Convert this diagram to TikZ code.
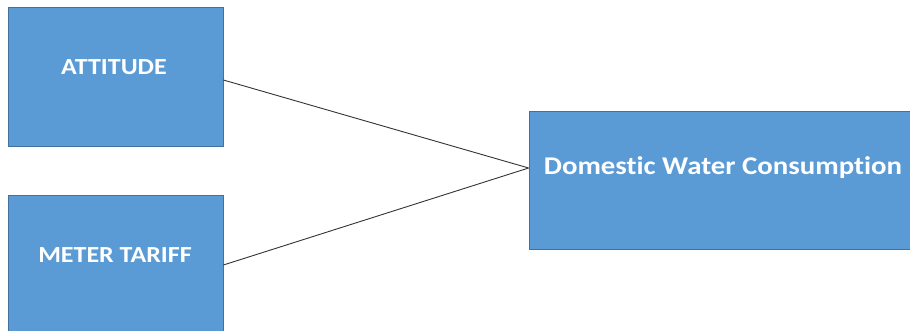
\documentclass[tikz,border=0pt]{standalone}
\usepackage{fontspec}
\setmainfont[Ligatures=NoCommon,FakeStretch=1.13]{Carlito}
\definecolor{boxfill}{HTML}{5B9BD5}
\definecolor{boxline}{HTML}{41719C}
\begin{document}
\begin{tikzpicture}[x=1pt,y=-1pt,
  bluebox/.style={draw=boxline,fill=boxfill,line width=0.8pt,rectangle,inner sep=0pt},
  boxtext/.style={text=white,inner sep=0pt},
  link/.style={draw=black!80,line width=0.9pt}]
\useasboundingbox (0,0) rectangle (910,330);
\node[bluebox,minimum width=215pt,minimum height=139pt] (att) at (115.5,76.5) {};
\node[bluebox,minimum width=215pt,minimum height=140pt] (met) at (115.5,265) {};
\node[bluebox,minimum width=388pt,minimum height=138pt] (dwc) at (723,180) {};
\node[boxtext,font=\bfseries\fontsize{23}{26}\selectfont] (attt) at (114,67) {ATTITUDE};
\node[boxtext,font=\bfseries\fontsize{23}{26}\selectfont] (mett) at (115,255) {METER TARIFF};
\node[boxtext,font=\bfseries\fontsize{25.5}{29}\selectfont] (dwct) at (723,168) {Domestic Water Consumption};
\draw[link] ([yshift=-3.5pt]att.east) -- ([yshift=12pt]dwc.west);
\draw[link] (met.east) -- ([yshift=12pt]dwc.west);
\end{tikzpicture}
\end{document}
